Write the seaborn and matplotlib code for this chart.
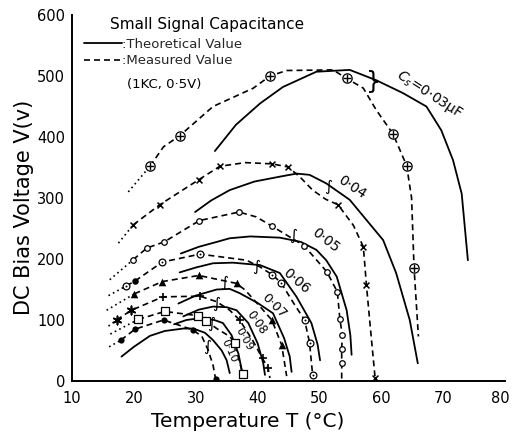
import matplotlib
matplotlib.use("Agg")
import matplotlib.pyplot as plt
import matplotlib.transforms as mtransforms
import seaborn as sns
from matplotlib.lines import Line2D

# ---------------- data ----------------
# Theoretical values (solid), T in degC, V in volts
th03_t = [33.1, 36.5, 40.4, 44.1, 49.5, 54.9, 59.2, 63.5, 67.3, 69.7, 71.6, 73.0, 74.0]
th03_v = [377, 420, 455, 482, 507, 510, 493, 472, 450, 411, 362, 307, 198]
th04_t = [29.9, 32.5, 35.5, 39.5, 43.6, 46.3, 48.4, 51.1, 54.9, 57.6, 60.3, 62.4, 64.6, 65.9]
th04_v = [277, 296, 313, 327, 335, 340, 338, 324, 297, 264, 231, 177, 100, 29]
th05_t = [27.6, 30.5, 33.4, 35.5, 38.8, 43.6, 47.0, 49.5, 51.1, 52.8, 54.4, 55.0, 55.2]
th05_v = [209, 220, 228, 234, 237, 235, 228, 215, 198, 171, 116, 75, 43]
th06_t = [27.4, 30.0, 32.8, 36.0, 40.4, 43.6, 46.3, 48.7, 49.7, 50.1]
th06_v = [178, 186, 193, 194, 190, 177, 138, 95, 60, 34]
th07_t = [27.2, 30.0, 33.4, 35.5, 37.1, 40.0, 42.5, 44.3, 45.2, 45.5]
th07_v = [127, 140, 150, 151, 144, 128, 111, 70, 40, 15]
th08_t = [28.0, 30.5, 32.8, 35.0, 36.6, 38.5, 40.0, 40.9, 41.2]
th08_v = [106, 117, 122, 121, 116, 95, 62, 30, 10]
th09_t = [26.5, 28.5, 30.7, 33.0, 34.4, 35.8, 36.9, 37.5]
th09_v = [93, 100, 103, 100, 95, 75, 45, 15]
th10_t = [18.0, 20.0, 22.6, 25.0, 28.0, 29.6, 31.5, 32.8, 34.2, 35.0, 35.5]
th10_v = [40, 56, 74, 82, 86, 86, 79, 67, 50, 34, 13]

# Measured values (dashed lines) and their markers
ms03_t = [19.1, 22.6, 24.8, 27.4, 32.8, 39.3, 42.0, 44.7, 52.2, 54.4, 57.1, 59.2, 61.9, 64.1, 64.9, 65.3, 66.0]
ms03_v = [310, 352, 384, 402, 450, 480, 500, 509, 510, 496, 480, 444, 405, 353, 300, 185, 73]
mk03_t = [22.6, 27.4, 42.0, 54.4, 61.9, 64.1, 65.3]
mk03_v = [352, 402, 500, 496, 405, 353, 185]

ms04_t = [17.5, 19.9, 24.2, 30.5, 33.9, 38.0, 42.3, 44.9, 46.8, 48.9, 51.0, 53.0, 55.5, 57.1, 57.6, 58.3, 59.0]
ms04_v = [226, 256, 289, 330, 352, 358, 356, 351, 335, 313, 298, 289, 255, 220, 157, 80, 5]
mk04_t = [19.9, 24.2, 30.5, 33.9, 42.3, 44.9, 53.0, 57.1, 57.6, 59.0]
mk04_v = [256, 289, 330, 352, 356, 351, 289, 220, 157, 5]

ms05_t = [16.1, 19.9, 22.1, 24.9, 30.6, 37.0, 39.8, 42.3, 47.5, 51.2, 52.9, 53.3, 53.7, 53.6, 53.6, 53.6]
ms05_v = [166, 199, 218, 228, 263, 277, 269, 254, 222, 179, 146, 102, 75, 53, 29, 0]
mk05_t = [19.9, 22.1, 24.9, 30.6, 37.0, 42.3, 47.5, 51.2, 52.9, 53.3, 53.7, 53.6, 53.6]
mk05_v = [199, 218, 228, 263, 277, 254, 222, 179, 146, 102, 75, 53, 29]

ms06_t = [15.9, 18.8, 20.2, 24.6, 30.7, 38.2, 40.4, 42.4, 43.8, 45.8, 47.6, 48.4, 48.9]
ms06_v = [140, 156, 164, 195, 208, 198, 187, 174, 161, 128, 100, 63, 10]
mk06_t = [18.8, 24.6, 30.7, 42.4, 43.8, 47.6, 48.4, 48.9]
mk06_v = [156, 195, 208, 174, 161, 100, 63, 10]
mk06b_t = [20.2]
mk06b_v = [164]

ms07_t = [15.6, 20.1, 24.6, 30.5, 36.6, 38.0, 40.4, 42.3, 43.9, 44.7]
ms07_v = [116, 143, 163, 173, 160, 149, 122, 100, 59, 8]
mk07_t = [20.1, 24.6, 30.5, 36.6, 42.3, 43.9]
mk07_v = [143, 163, 173, 160, 100, 59]

ms08_t = [15.9, 17.2, 19.6, 24.7, 30.7, 33.4, 35.5, 37.1, 39.3, 40.8, 41.7, 42.0]
ms08_v = [90, 100, 116, 138, 139, 130, 116, 100, 65, 37, 21, 5]
mk08a_t = [17.2, 19.6]
mk08a_v = [100, 116]
mk08b_t = [24.7, 30.7, 37.1, 40.8, 41.7]
mk08b_v = [138, 139, 100, 37, 21]

ms09_t = [16.2, 20.7, 25.0, 30.4, 31.6, 33.4, 35.5, 36.3, 37.0, 37.6]
ms09_v = [77, 101, 114, 107, 99, 86, 73, 63, 35, 11]
mk09_t = [20.7, 25.0, 30.4, 31.6, 36.3, 37.6]
mk09_v = [101, 114, 107, 99, 63, 11]

ms10_t = [16.0, 17.9, 20.2, 24.8, 29.5, 31.0, 32.0, 32.8, 33.2]
ms10_v = [56, 67, 85, 100, 84, 73, 51, 26, 4]
mk10_t = [17.9, 20.2, 24.8, 29.5, 33.2]
mk10_v = [67, 85, 100, 84, 4]

# curve labels
lab_text = ["0·04", "0·05", "0·06", "0·07", "0·08", "0·09", "0·10"]
lab_t = [55.2, 51.0, 46.3, 42.6, 39.8, 37.8, 35.4]
lab_v = [318, 230, 164, 123, 95, 68, 50]
lab_rot = [-34, -38, -41, -45, -55, -60, -65]
lab_size = [10, 10, 10, 9.5, 8.5, 8, 8]
brk_t = [51.4, 45.7, 39.8, 34.6, 33.3, 32.5, 31.8]
brk_v = [319, 238, 187, 162, 127, 95, 57]

xticks = [10, 20, 30, 40, 50, 60, 70, 80]
yticks = [0, 100, 200, 300, 400, 500, 600]

# ---------------- drawing ----------------
sns.set_theme(style="white")
plt.rcParams['font.family'] = ['DejaVu Sans']

fig = plt.figure(figsize=(5.12, 4.36), dpi=100)
ax = fig.add_axes([72 / 512, 55 / 436, 433 / 512, 366 / 436])

K = "black"
dash = (0, (3.6, 2.4))

for t, v in [(th03_t, th03_v), (th04_t, th04_v), (th05_t, th05_v), (th06_t, th06_v),
             (th07_t, th07_v), (th08_t, th08_v), (th09_t, th09_v), (th10_t, th10_v)]:
    sns.lineplot(x=t, y=v, sort=False, estimator=None, color=K, lw=1.3, ax=ax)

for t, v in [(ms03_t, ms03_v), (ms04_t, ms04_v), (ms05_t, ms05_v), (ms06_t, ms06_v),
             (ms07_t, ms07_v), (ms08_t, ms08_v), (ms09_t, ms09_v), (ms10_t, ms10_v)]:
    sns.lineplot(x=t[:2], y=v[:2], sort=False, estimator=None, color=K, lw=1.2,
                 linestyle=(0, (1, 2)), ax=ax)
    sns.lineplot(x=t[1:], y=v[1:], sort=False, estimator=None, color=K, lw=1.2,
                 linestyle=dash, ax=ax)

# markers
def hollow(t, v, m, s, lw=0.9):
    sns.scatterplot(x=t, y=v, marker=m, s=s, facecolor="white", edgecolor=K,
                    linewidth=lw, ax=ax, zorder=5)

def line_marker(t, v, m, s, lw=1.0):
    sns.scatterplot(x=t, y=v, marker=m, s=s, color=K, linewidth=lw, ax=ax, zorder=6)

hollow(mk03_t, mk03_v, "o", 45)
line_marker(mk03_t, mk03_v, "+", 40)
line_marker(mk04_t, mk04_v, "x", 18, 1.1)
hollow(mk05_t, mk05_v, "o", 16)
hollow(mk06_t, mk06_v, "o", 24)
sns.scatterplot(x=mk06_t, y=mk06_v, marker="o", s=2, color=K, linewidth=0, ax=ax, zorder=6)
sns.scatterplot(x=mk06b_t, y=mk06b_v, marker="o", s=22, color=K, linewidth=0, ax=ax, zorder=6)
sns.scatterplot(x=mk07_t, y=mk07_v, marker="^", s=30, color=K, linewidth=0, ax=ax, zorder=6)
line_marker(mk08a_t, mk08a_v, (6, 2, 0), 36, 1.2)
line_marker(mk08b_t, mk08b_v, "+", 32, 1.2)
hollow(mk09_t, mk09_v, "s", 26)
sns.scatterplot(x=mk10_t, y=mk10_v, marker="o", s=20, color=K, linewidth=0, ax=ax, zorder=6)

# curve labels and brackets
for txt, t, v, r, fs in zip(lab_text, lab_t, lab_v, lab_rot, lab_size):
    ax.text(t, v, txt, rotation=r, fontsize=fs, ha="center", va="center",
            rotation_mode="anchor", color=K)
ax.text(67.8, 469, r"$C_s$=0·03μF", rotation=-33, fontsize=10, ha="center",
        va="center", rotation_mode="anchor", color=K)
for t, v in zip(brk_t, brk_v):
    ax.text(t, v, "∫", fontsize=11, ha="center", va="center", color=K)
ax.text(58.7, 490, "}", fontsize=17, ha="center", va="center", color=K)

# legend block
ax.text(0.088, 0.973, "Small Signal Capacitance", transform=ax.transAxes,
        fontsize=11, ha="left", va="center", color=K)
handles = [Line2D([0], [0], color=K, lw=1.3),
           Line2D([0], [0], color=K, lw=1.2, linestyle=dash)]
ax.legend(handles, [":Theoretical Value", ":Measured Value"], loc="upper left",
          bbox_to_anchor=(0.027, 0.937), frameon=False, handlelength=2.9,
          handletextpad=0.0, fontsize=9.5, labelspacing=0.25, borderaxespad=0,
          borderpad=0)
ax.text(0.127, 0.809, "(1KC, 0·5V)", transform=ax.transAxes, fontsize=9.5,
        ha="left", va="center", color=K)

# axes
ax.set_xlim(10, 80)
ax.set_ylim(0, 600)
ax.set_xticks(xticks)
ax.set_yticks(yticks)
ax.tick_params(direction="in", length=5, width=1.2, labelsize=10.5, colors=K)
ax.tick_params(axis="x", pad=7)
ax.tick_params(axis="y", pad=5)
sns.despine(ax=ax)
for sp in ("left", "bottom"):
    ax.spines[sp].set_linewidth(1.4)
    ax.spines[sp].set_color(K)
ax.set_xlabel("Temperature T (°C)", fontsize=14.5, color=K)
ax.set_ylabel("DC Bias Voltage V(v)", fontsize=15, color=K)
ax.xaxis.set_label_coords(0.405, -0.085)
ax.yaxis.set_label_coords(-0.088, 0.475)

# keep the last x tick label inside the canvas
last = ax.get_xticklabels()[-1]
last.set_transform(last.get_transform() +
                   mtransforms.ScaledTranslation(-5 / 100, 0, fig.dpi_scale_trans))

fig.savefig("out.png", dpi=100, facecolor="white")
